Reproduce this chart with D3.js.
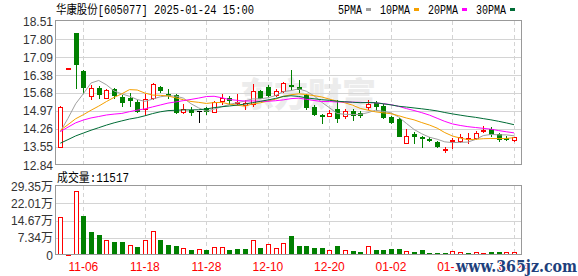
<!DOCTYPE html>
<html>
<head>
<meta charset="utf-8">
<script src="https://cdn.jsdelivr.net/npm/d3@7"></script>
<style>
  body { margin: 0; background: #fff; }
  svg { display: block; }
</style>
</head>
<body>
<script>
// trading days 2024-11-01 .. 2025-01-24
const dates = ["11-01","11-04","11-05","11-06","11-07","11-08","11-11","11-12","11-13","11-14",
  "11-15","11-18","11-19","11-20","11-21","11-22","11-25","11-26","11-27","11-28",
  "11-29","12-02","12-03","12-04","12-05","12-06","12-09","12-10","12-11","12-12",
  "12-13","12-16","12-17","12-18","12-19","12-20","12-23","12-24","12-25","12-26",
  "12-27","12-30","12-31","01-02","01-03","01-06","01-07","01-08","01-09","01-10",
  "01-13","01-14","01-15","01-16","01-17","01-20","01-21","01-22","01-23","01-24"];

const open = [13.56,16.63,18.05,16.55,15.56,15.88,15.49,15.83,15.53,15.47,
  15.31,15.04,15.47,15.91,15.65,15.60,14.94,15.02,14.98,15.07,
  14.91,15.36,15.49,15.28,15.20,15.23,15.75,15.91,15.60,15.75,
  15.99,15.92,15.60,15.13,14.82,14.77,15.04,14.78,14.98,14.87,
  15.11,15.29,15.17,14.72,14.65,13.72,14.05,13.94,13.87,13.76,
  13.44,13.78,13.78,13.85,13.91,14.18,14.24,14.05,13.92,13.81];
const high = [15.18,16.64,18.05,16.60,15.99,15.96,15.82,15.88,15.60,15.66,
  15.40,15.63,16.08,15.95,15.83,15.65,15.23,15.12,14.98,15.12,
  15.37,15.62,15.56,15.62,15.40,16.03,15.79,15.99,15.83,16.10,
  16.58,16.19,15.65,15.20,14.86,15.00,15.39,15.03,15.04,14.96,
  15.39,15.36,15.23,14.77,14.69,14.24,14.15,13.99,13.95,13.80,
  13.56,13.89,14.07,14.09,14.18,14.37,14.35,14.09,14.00,13.95];
const low = [13.54,16.63,15.88,15.69,15.43,15.47,15.47,15.49,15.17,15.17,
  14.94,14.81,15.45,15.70,15.47,14.90,14.87,14.81,14.52,14.84,
  14.91,15.23,15.23,15.26,15.03,15.17,15.47,15.56,15.56,15.70,
  15.83,15.70,15.04,14.81,14.48,14.76,14.54,14.70,14.61,14.74,
  15.04,15.00,14.68,14.48,13.99,13.69,13.72,13.56,13.78,13.56,
  13.34,13.52,13.73,13.72,13.86,14.13,13.99,13.78,13.82,13.80];
const close = [15.13,16.64,16.82,15.90,15.86,15.62,15.79,15.60,15.33,15.39,
  14.98,15.43,16.03,15.80,15.60,14.91,15.03,14.92,14.98,14.96,
  15.33,15.47,15.39,15.32,15.28,15.75,15.49,15.60,15.75,16.06,
  15.95,15.83,15.13,14.85,14.78,14.89,14.70,14.96,14.81,14.80,
  15.24,15.17,14.74,14.52,13.98,13.99,13.97,13.89,13.84,13.59,
  13.47,13.82,13.94,13.89,14.11,14.23,14.05,13.86,13.88,13.93];
// volume, in 万 (10k lots)
const volume = [16.0,0.4,27.1,16.6,9.9,8.5,6.4,5.5,5.5,4.1,
  3.4,6.4,10.2,6.4,4.3,3.8,2.8,2.1,2.6,2.1,
  3.3,3.3,2.1,2.6,2.6,6.4,3.0,4.5,3.0,5.0,
  8.1,3.8,3.8,3.0,3.0,2.1,3.8,2.1,1.6,1.3,
  3.8,2.1,2.1,2.6,2.6,1.6,1.3,2.1,0.9,0.9,
  0.9,1.6,1.1,0.9,1.1,0.9,1.3,1.3,1.1,1.1517];
// 29 closes before 11-01 (estimated from where the MA lines start)
const priorClose = [12.40,12.45,12.50,12.55,12.60,12.75,12.90,13.05,13.20,13.40,
  13.20,13.40,13.70,14.20,14.50,14.60,14.90,14.80,14.00,13.80,
  14.40,14.50,14.30,14.10,14.00,14.00,13.95,13.92,13.75];

const priceTicks = [18.51,17.80,17.09,16.38,15.68,14.97,14.26,13.55,12.84];
const volTicks = [29.35,22.01,14.67,7.34,0];
const volTickLabels = ["29.35万","22.01万","14.67万","7.34万","0"];
const dateTicks = ["11-06","11-18","11-28","12-10","12-20","01-02","01-14","01-24"];
const maDays = [5,10,20,30];
const maNames = ["5PMA","10PMA","20PMA","30PMA"];
const maColors = ["#a0a0a0","#f5a000","#ff00ff","#006c36"];

const title = "华康股份[605077] 2025-01-24 15:00";
const volTitle = "成交量:11517";

let W = 578, H = 276;
let left = 56, right = 522;
let pTop = 21, pBot = 165, vTop = 186, vBot = 255;
let red = "#ff0000", green = "#008000";

let svg = d3.select("body").append("svg")
    .attr("width", W)
    .attr("height", H)
    .style("background", "#fff");

let x = d3.scalePoint().domain(dates).range([60.3, 514]);
let y = d3.scaleLinear().domain([12.84, 18.51]).range([pBot, pTop]);
let yv = d3.scaleLinear().domain([0, 29.35]).range([vBot, vTop]);

let px = v => Math.round(v) + 0.5;

// simsun-like widths: ascii 6px, cjk 12px
function fixedText(sel, str) {
    let w = 0;
    for (let ch of str) w += ch.charCodeAt(0) < 128 ? 6 : 12;
    sel.text(str)
        .attr("font-family", "'Liberation Mono', 'Noto Sans CJK SC', monospace")
        .attr("font-size", 12)
        .attr("textLength", w)
        .attr("lengthAdjust", "spacingAndGlyphs");
    return w;
}

// faint watermark in the price panel
svg.append("text")
    .attr("x", 240).attr("y", 107)
    .attr("font-family", "'Noto Sans CJK SC'")
    .attr("font-weight", 900)
    .attr("font-size", 34)
    .attr("fill", "#ececec")
    .text("东方财富");

// grid
let grid = svg.append("g").attr("stroke", "#d4d4d4").attr("shape-rendering", "crispEdges");
grid.selectAll("line.ph")
    .data(priceTicks.slice(1, -1))
    .join("line")
    .attr("x1", left).attr("x2", right)
    .attr("y1", d => px(y(d))).attr("y2", d => px(y(d)));
grid.selectAll("line.vh")
    .data(volTicks.slice(1, -1))
    .join("line")
    .attr("class", "vh")
    .attr("x1", left).attr("x2", right)
    .attr("y1", d => px(yv(d))).attr("y2", d => px(yv(d)));
[[pTop, pBot], [vTop, vBot]].forEach(r => {
    grid.append("g").selectAll("line")
        .data(dateTicks)
        .join("line")
        .attr("stroke-dasharray", "4,3")
        .attr("x1", d => px(x(d))).attr("x2", d => px(x(d)))
        .attr("y1", r[0]).attr("y2", r[1]);
});

let bars = dates.map((d, i) => ({
    date: d, o: open[i], h: high[i], l: low[i], c: close[i], v: volume[i],
    prev: i == 0 ? priorClose[priorClose.length - 1] : close[i - 1]
}));
let candleColor = d => d.c > d.o ? red : d.c < d.o ? green : "#000";

// candles
let cg = svg.append("g").attr("shape-rendering", "crispEdges");
cg.selectAll("line.wick")
    .data(bars)
    .join("line")
    .attr("x1", d => px(x(d.date))).attr("x2", d => px(x(d.date)))
    .attr("y1", d => Math.round(y(d.h))).attr("y2", d => Math.round(y(d.l)) + 1)
    .attr("stroke", candleColor);
cg.selectAll("rect.up")
    .data(bars.filter(d => d.c > d.o))
    .join("rect")
    .attr("x", d => Math.round(x(d.date)) - 1.5)
    .attr("y", d => Math.round(y(d.c)) + 0.5)
    .attr("width", 4)
    .attr("height", d => Math.max(Math.round(y(d.o)) - Math.round(y(d.c)), 1))
    .attr("fill", "#fff")
    .attr("stroke", red);
cg.selectAll("rect.down")
    .data(bars.filter(d => d.c < d.o))
    .join("rect")
    .attr("x", d => Math.round(x(d.date)) - 2)
    .attr("y", d => Math.round(y(d.o)))
    .attr("width", 5)
    .attr("height", d => Math.max(Math.round(y(d.c)) - Math.round(y(d.o)) + 1, 1))
    .attr("fill", green);
cg.selectAll("line.doji")
    .data(bars.filter(d => d.c == d.o))
    .join("line")
    .attr("x1", d => Math.round(x(d.date)) - 2).attr("x2", d => Math.round(x(d.date)) + 3)
    .attr("y1", d => px(y(d.c))).attr("y2", d => px(y(d.c)))
    .attr("stroke", "#000");

// moving averages
let allClose = priorClose.concat(close);
let n0 = priorClose.length;
svg.append("clipPath").attr("id", "pclip")
    .append("rect").attr("x", left).attr("y", pTop).attr("width", right - left).attr("height", pBot - pTop);
let line = d3.line()
    .x((d, i) => x(dates[i]))
    .y(d => y(d));
maDays.forEach((n, k) => {
    let ma = close.map((c, i) => d3.mean(allClose.slice(n0 + i - n + 1, n0 + i + 1)));
    svg.append("path")
        .datum(ma)
        .attr("clip-path", "url(#pclip)")
        .attr("fill", "none")
        .attr("stroke", maColors[k])
        .attr("stroke-width", 1)
        .attr("d", line);
});

// volume bars, coloured by close vs previous close
let vg = svg.append("g").attr("shape-rendering", "crispEdges");
vg.selectAll("rect.vup")
    .data(bars.filter(d => d.c >= d.prev))
    .join("rect")
    .attr("x", d => Math.round(x(d.date)) - 1.5)
    .attr("y", d => Math.round(yv(d.v)) + 0.5)
    .attr("width", 4)
    .attr("height", d => Math.max(vBot - Math.round(yv(d.v)) - 1, 1))
    .attr("fill", "#fff")
    .attr("stroke", red);
vg.selectAll("rect.vdown")
    .data(bars.filter(d => d.c < d.prev))
    .join("rect")
    .attr("x", d => Math.round(x(d.date)) - 2)
    .attr("y", d => Math.round(yv(d.v)))
    .attr("width", 5)
    .attr("height", d => vBot - Math.round(yv(d.v)))
    .attr("fill", green);

// frames
[[pTop, pBot], [vTop, vBot]].forEach(r => {
    svg.append("rect")
        .attr("x", left - 0.5).attr("y", r[0] - 0.5)
        .attr("width", right - left).attr("height", r[1] - r[0])
        .attr("fill", "none")
        .attr("stroke", "#999")
        .attr("shape-rendering", "crispEdges");
});

// axis labels
let lab = svg.append("g")
    .attr("font-family", "'Liberation Sans', Arial, 'Noto Sans CJK SC', sans-serif")
    .attr("font-size", 12)
    .attr("fill", "#333");
lab.selectAll("text.p")
    .data(priceTicks)
    .join("text")
    .attr("x", 53)
    .attr("y", d => y(d) + 4.5)
    .attr("text-anchor", "end")
    .text(d => d.toFixed(2));
lab.selectAll("text.v")
    .data(volTicks)
    .join("text")
    .attr("class", "v")
    .attr("x", 53)
    .attr("y", d => yv(d) + 4.5)
    .attr("text-anchor", "end")
    .text((d, i) => volTickLabels[i]);
lab.append("g").selectAll("text")
    .data(dateTicks)
    .join("text")
    .attr("x", d => x(d))
    .attr("y", 271)
    .attr("text-anchor", "middle")
    .attr("fill", red)
    .text(d => d);

// titles
svg.append("text").attr("x", 56).attr("y", 14).attr("fill", "#000").call(fixedText, title);
svg.append("text").attr("x", 57).attr("y", 182).attr("fill", "#000").call(fixedText, volTitle);

// legend
let lx = 338;
maNames.forEach((name, k) => {
    let w = 0;
    svg.append("text").attr("x", lx).attr("y", 14).attr("fill", "#000")
        .call(s => { w = fixedText(s, name); });
    svg.append("rect")
        .attr("x", lx + w + 4).attr("y", 8)
        .attr("width", 5).attr("height", 3)
        .attr("fill", maColors[k]);
    lx += w + 4 + 5 + 9;
});

// site watermark
svg.append("text")
    .attr("x", 456).attr("y", 272)
    .attr("font-family", "'DejaVu Serif', serif")
    .attr("font-weight", "bold")
    .attr("font-size", 17)
    .attr("textLength", 121)
    .attr("lengthAdjust", "spacingAndGlyphs")
    .attr("fill", "#203f7c")
    .attr("stroke", "#fff")
    .attr("stroke-width", 2)
    .attr("paint-order", "stroke")
    .text("www.365jz.com");
</script>
</body>
</html>
